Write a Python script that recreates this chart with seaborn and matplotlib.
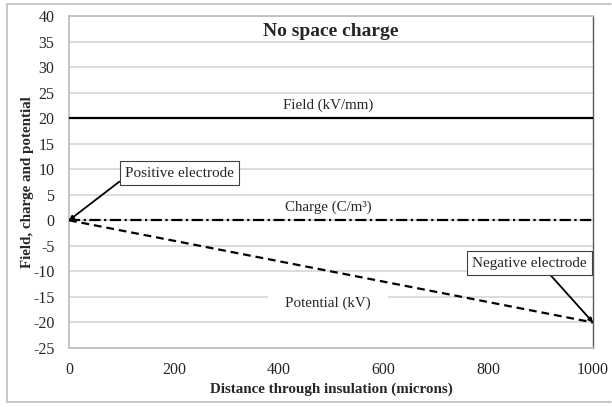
import matplotlib
matplotlib.use("Agg")
import matplotlib.pyplot as plt
import seaborn as sns
import pandas as pd
from matplotlib.lines import Line2D

# ---- data ----
distance = [0, 1000]
field = [20, 20]          # kV/mm
charge = [0, 0]           # C/m^3
potential = [0, -20]      # kV
series_names = ["Field", "Charge", "Potential"]
x_ticks = [0, 200, 400, 600, 800, 1000]
y_ticks = list(range(-25, 41, 5))

df = pd.DataFrame({
    "x": distance * 3,
    "y": field + charge + potential,
    "series": [series_names[0]] * 2 + [series_names[1]] * 2 + [series_names[2]] * 2,
})

sns.set_style("white")
plt.rcParams["font.family"] = ["Liberation Serif", "DejaVu Serif"]
plt.rcParams["axes.unicode_minus"] = False

fig = plt.figure(figsize=(6.12, 4.07), dpi=100)
ax = fig.add_axes([69 / 612, 1 - 348 / 407, (593 - 69) / 612, (348 - 16) / 407])

sns.lineplot(data=df, x="x", y="y", style="series",
             dashes={"Field": "", "Charge": (5, 1.6, 1, 1.6), "Potential": (3.5, 2.2)},
             color="black", linewidth=1.6, legend=False, ax=ax, zorder=3)

ax.set_xlim(0, 1000)
ax.set_ylim(-25, 40)
ax.set_xticks(x_ticks)
ax.set_yticks(y_ticks)
ax.yaxis.grid(True, color="#d9d9d9", linewidth=1.3)
ax.set_axisbelow(True)
for side in ["left", "bottom", "top"]:
    ax.spines[side].set_color("#bfbfbf")
    ax.spines[side].set_linewidth(1.3)
ax.spines["right"].set_color("#595959")
ax.spines["right"].set_linewidth(1.0)
ax.tick_params(axis="both", length=4, width=1, color="#bfbfbf", labelsize=11.5)
ax.tick_params(axis="y", pad=6.5)
ax.tick_params(axis="x", pad=6)

ax.set_xlabel("Distance through insulation (microns)", fontsize=10.8, fontweight="bold", labelpad=3)
ax.set_ylabel("Field, charge and potential", fontsize=10.8, fontweight="bold", labelpad=-0.5)

# title inside plot
ax.text(499, 37, "No space charge", fontsize=14, fontweight="bold", ha="center", va="center", zorder=4)

# line labels with white boxes
lab_kw = dict(fontsize=10.8, ha="center", va="center", zorder=2.5,
              bbox=dict(boxstyle="square,pad=0.15", facecolor="white", edgecolor="none"))
ax.text(494, 22.6, "    Field (kV/mm)    ", **lab_kw)
ax.text(494, 2.6, "    Charge (C/m³)    ", **lab_kw)
ax.text(494, -16.2, "    Potential (kV)    ", **lab_kw)

# callouts
box_kw = dict(boxstyle="square,pad=0.35", facecolor="white", edgecolor="#404040", linewidth=0.8)
ax.annotate("Positive electrode", xy=(0, 0), xytext=(211, 9.2), fontsize=11,
            ha="center", va="center", bbox=box_kw, zorder=5,
            arrowprops=dict(arrowstyle="-|>", color="black", lw=1.3, mutation_scale=6,
                            relpos=(0, 0.2), shrinkA=0, shrinkB=0))
ax.annotate("Negative electrode", xy=(1000, -20), xytext=(879, -8.4), fontsize=11,
            ha="center", va="center", bbox=box_kw, zorder=5,
            arrowprops=dict(arrowstyle="-|>", color="black", lw=1.3, mutation_scale=6,
                            relpos=(0.64, 0), shrinkA=0, shrinkB=0))

# outer chart frame
frame_col = "#bfbfbf"
fig.add_artist(Line2D([7 / 612, 611 / 612], [1 - 4 / 407, 1 - 4 / 407], color=frame_col, lw=1.2))
fig.add_artist(Line2D([7 / 612, 611 / 612], [1 - 402 / 407, 1 - 402 / 407], color=frame_col, lw=1.2))
fig.add_artist(Line2D([7 / 612, 7 / 612], [1 - 4 / 407, 1 - 402 / 407], color=frame_col, lw=1.2))

fig.savefig("out.png", dpi=100)
